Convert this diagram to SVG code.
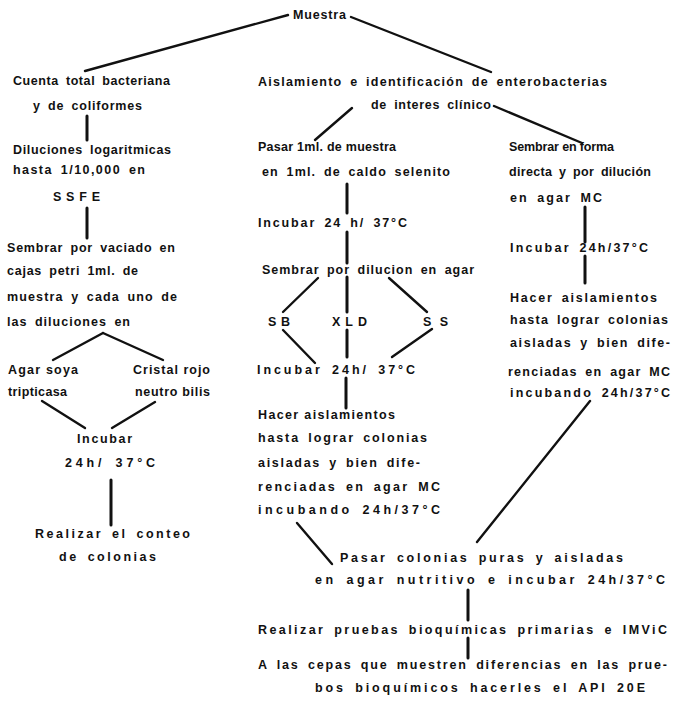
<svg xmlns="http://www.w3.org/2000/svg" width="688" height="706" viewBox="0 0 688 706">
<style>
text{font-family:"Liberation Sans",Arial,sans-serif;font-size:12.5px;font-weight:bold;fill:#111;word-spacing:3px;}
.tight{word-spacing:0;}
.c line{stroke:#111;stroke-width:2.4;stroke-linecap:round;}
.c .v{stroke-width:3;}
</style>
<rect width="688" height="706" fill="#fff"/>
<g class="c" id="connectors">
<line x1="288" y1="15" x2="85" y2="71"/>
<line x1="351" y1="17" x2="491" y2="72"/>
<line class="v" x1="87" y1="116" x2="87" y2="140"/>
<line class="v" x1="87" y1="208" x2="87" y2="238"/>
<line x1="103" y1="333" x2="53" y2="360"/>
<line x1="103" y1="333" x2="163" y2="360"/>
<line x1="42" y1="401" x2="85" y2="428"/>
<line x1="155" y1="402" x2="112" y2="428"/>
<line class="v" x1="111" y1="480" x2="111" y2="525"/>
<line x1="352" y1="108" x2="315" y2="140"/>
<line x1="494" y1="106" x2="582" y2="143"/>
<line class="v" x1="347" y1="184" x2="347" y2="213"/>
<line class="v" x1="347" y1="232" x2="347" y2="263"/>
<line x1="318" y1="278" x2="283" y2="312"/>
<line class="v" x1="347" y1="277" x2="347" y2="312"/>
<line x1="389" y1="278" x2="427" y2="312"/>
<line x1="283" y1="330" x2="315" y2="363"/>
<line class="v" x1="347" y1="330" x2="347" y2="357"/>
<line x1="432" y1="329" x2="392" y2="357"/>
<line class="v" x1="346" y1="378" x2="346" y2="408"/>
<line x1="297" y1="523" x2="332" y2="564"/>
<line class="v" x1="585" y1="207" x2="585" y2="242"/>
<line class="v" x1="585" y1="256" x2="585" y2="283"/>
<line x1="590" y1="401" x2="477" y2="542"/>
<line class="v" x1="468" y1="590" x2="468" y2="620"/>
<line class="v" x1="468" y1="638" x2="468" y2="658"/>
</g>
<g id="muestra"><text x="293" y="19" textLength="53">Muestra</text></g>
<g id="cuenta">
<text x="13" y="85" textLength="157">Cuenta total bacteriana</text>
<text x="33" y="110" textLength="109">y de coliformes</text>
</g>
<g id="diluciones">
<text x="13" y="154" textLength="158">Diluciones logaritmicas</text>
<text x="13" y="174" textLength="132">hasta 1/10,000 en</text>
<text x="53" y="201" textLength="47">SSFE</text>
</g>
<g id="sembrar-vaciado">
<text x="7" y="252" textLength="168">Sembrar por vaciado en</text>
<text x="7" y="275" textLength="131">cajas petri 1ml. de</text>
<text x="7" y="301" textLength="170">muestra y cada uno de</text>
<text x="7" y="326" textLength="123">las diluciones en</text>
</g>
<g id="agar-soya">
<text class="tight" x="8" y="374" textLength="70">Agar soya</text>
<text class="tight" x="8" y="396" textLength="59">tripticasa</text>
</g>
<g id="cristal">
<text class="tight" x="133" y="374" textLength="77">Cristal rojo</text>
<text class="tight" x="135" y="396" textLength="75">neutro bilis</text>
</g>
<g id="incubar-left">
<text x="77" y="443" textLength="55">Incubar</text>
<text x="65" y="467" textLength="90">24h/ 37°C</text>
</g>
<g id="conteo">
<text x="35" y="538" textLength="155">Realizar el conteo</text>
<text x="59" y="561" textLength="97">de colonias</text>
</g>
<g id="aislamiento">
<text x="258" y="86" textLength="349">Aislamiento e identificación de enterobacterias</text>
<text x="371" y="109" textLength="120">de interes clínico</text>
</g>
<g id="pasar-selenito">
<text class="tight" x="258" y="151" textLength="138">Pasar 1ml. de muestra</text>
<text x="262" y="176" textLength="188">en 1ml. de caldo selenito</text>
</g>
<g id="incubar-mid1"><text x="258" y="227" textLength="149">Incubar 24 h/ 37°C</text></g>
<g id="sembrar-dilucion"><text x="262" y="274" textLength="212">Sembrar por dilucion en agar</text></g>
<g id="sb"><text x="268" y="326" textLength="22">SB</text></g>
<g id="xld"><text x="332" y="326" textLength="35">XLD</text></g>
<g id="ss"><text x="423" y="326" textLength="25">SS</text></g>
<g id="incubar-mid2"><text x="257" y="374" textLength="158">Incubar 24h/ 37°C</text></g>
<g id="aislamientos-mid">
<text class="tight" x="258" y="419" textLength="137">Hacer aislamientos</text>
<text x="258" y="442" textLength="169">hasta lograr colonias</text>
<text x="258" y="467" textLength="162">aisladas y bien dife-</text>
<text x="258" y="491" textLength="182">renciadas en agar MC</text>
<text x="258" y="514" textLength="182">incubando 24h/37°C</text>
</g>
<g id="sembrar-directa">
<text class="tight" x="509" y="151" textLength="105">Sembrar en forma</text>
<text x="509" y="176" textLength="142">directa y por dilución</text>
<text x="510" y="202" textLength="92">en agar MC</text>
</g>
<g id="incubar-right"><text x="510" y="252" textLength="138">Incubar 24h/37°C</text></g>
<g id="aislamientos-right">
<text x="510" y="302" textLength="147">Hacer aislamientos</text>
<text x="510" y="324" textLength="158">hasta lograr colonias</text>
<text x="510" y="347" textLength="160">aisladas y bien dife-</text>
<text x="508" y="376" textLength="162">renciadas en agar MC</text>
<text x="510" y="397" textLength="160">incubando 24h/37°C</text>
</g>
<g id="pasar-colonias">
<text x="340" y="562" textLength="283">Pasar colonias puras y aisladas</text>
<text x="315" y="584" textLength="350">en agar nutritivo e incubar 24h/37°C</text>
</g>
<g id="pruebas"><text x="258" y="634" textLength="409">Realizar pruebas bioquímicas primarias e IMViC</text></g>
<g id="api">
<text x="258" y="669" textLength="409">A las cepas que muestren diferencias en las prue-</text>
<text x="315" y="692" textLength="330">bos bioquímicos hacerles el API 20E</text>
</g>
</svg>
